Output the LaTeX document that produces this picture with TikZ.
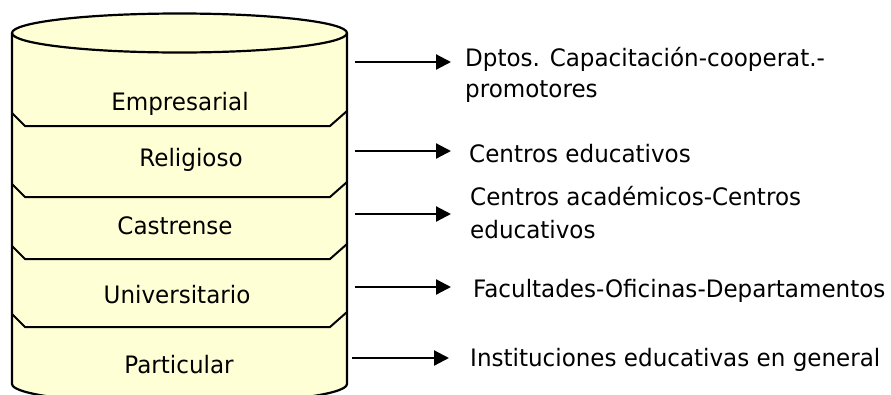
\documentclass[tikz,border=0pt]{standalone}
\usepackage{fontspec}
\setmainfont[FakeStretch=0.96]{DejaVu Sans}
\usetikzlibrary{arrows.meta}
\definecolor{cylfill}{HTML}{FFFFD6}
\tikzset{
  outline/.style={line width=2.2pt, line join=round},
  sep/.style={line width=2pt},
  lbl/.style={anchor=base, inner sep=0pt, font=\fontsize{24}{28}\selectfont},
  rtxt/.style={anchor=base west, inner sep=0pt, align=left},
  conn/.style={line width=2.2pt, -{Triangle[length=15pt,width=15pt]}}
}
\begin{document}
\begin{tikzpicture}[x=1pt,y=-1pt]
\useasboundingbox (0,0) rectangle (891,394);
\begin{scope}
\clip (0,0) rectangle (891,394);
% cylinder body
\fill[cylfill] (12,33) -- (12,384) arc[start angle=180,end angle=0,x radius=167.5,y radius=20] -- (347,33) arc[start angle=0,end angle=-180,x radius=167.5,y radius=19.5] -- cycle;
\draw[outline] (12,33) -- (12,384) arc[start angle=180,end angle=0,x radius=167.5,y radius=20] -- (347,33);
\draw[outline] (179.5,33) ellipse[x radius=167.5,y radius=19.5];
% separators
\foreach \b in {126,197,259,327}{
  \draw[sep] (12,\b-13) -- (25,\b) -- (330,\b) -- (347,\b-15);
}
\end{scope}
% layer labels
\node[lbl] (emp) at (180,110) {Empresarial};
\node[lbl] (rel) at (191,166) {Religioso};
\node[lbl] (cas) at (175,234) {Castrense};
\node[lbl] (uni) at (177,303) {Universitario};
\node[lbl] (par) at (179,373) {Particular};
% right texts (base anchor = last line)
\node[rtxt, font=\fontsize{24}{31}\selectfont] (t1) at (465,97) {Dptos. Capacitación-cooperat.-\\promotores};
\node[rtxt, font=\fontsize{24}{28}\selectfont] (t2) at (469,162) {Centros educativos};
\node[rtxt, font=\fontsize{24}{33}\selectfont] (t3) at (470,238) {Centros académicos-Centros\\educativos};
\node[rtxt, font=\fontsize{24}{28}\selectfont] (t4) at (473,297) {Facultades-Oficinas-Departamentos};
\node[rtxt, font=\fontsize{24}{28}\selectfont] (t5) at (470,366) {Instituciones educativas en general};
% arrows
\coordinate (s1) at (355,62);  \coordinate (e1) at (451,62);
\coordinate (s2) at (355,151); \coordinate (e2) at (451,151);
\coordinate (s3) at (355,214); \coordinate (e3) at (451,214);
\coordinate (s4) at (355,287); \coordinate (e4) at (451,287);
\coordinate (s5) at (352,358); \coordinate (e5) at (449,358);
\foreach \i in {1,...,5}{ \draw[conn] (s\i) -- (e\i); }
\end{tikzpicture}
\end{document}
